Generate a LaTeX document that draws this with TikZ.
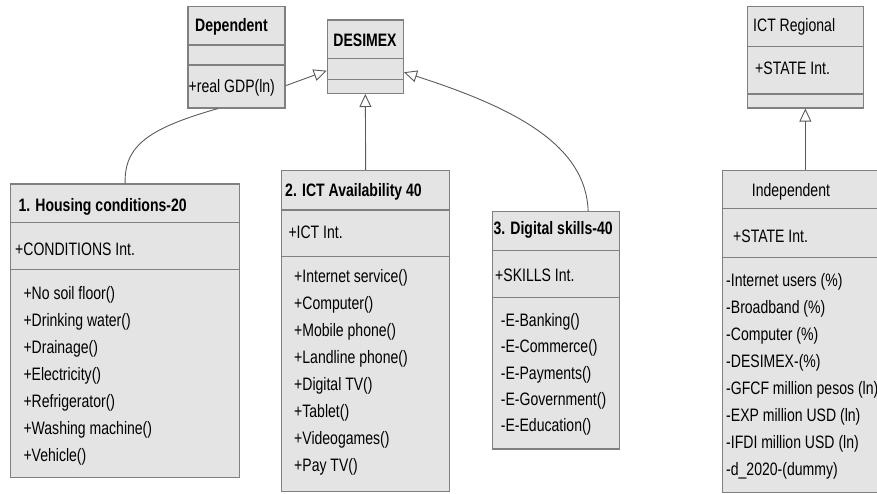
\documentclass[tikz,border=0pt]{standalone}
\usepackage{fontspec}
\setmainfont{Liberation Sans}[FakeStretch=0.78]
\usetikzlibrary{arrows.meta, positioning}
\definecolor{classfill}{RGB}{228,228,228}
\definecolor{classdraw}{RGB}{128,128,128}
\definecolor{linkdraw}{RGB}{90,90,90}

\begin{document}
\begin{tikzpicture}[
x=1pt, y=-1pt,
every node/.style={font=\fontsize{18}{20}\selectfont, inner sep=0pt},
classbox/.style={rectangle, draw=classdraw, fill=classfill, line width=1.3pt, anchor=north west},
classname/.style={font=\bfseries\fontsize{18}{20}\selectfont, anchor=base west},
member/.style={anchor=base west},
divider/.style={draw=classdraw, line width=1.3pt},
inherit/.style={-{Triangle[open, length=13pt, width=12pt]}, draw=linkdraw, line width=0.9pt},
link/.style={draw=linkdraw, line width=0.9pt}
]
\useasboundingbox (0,0) rectangle (877,494);

\node[classbox, minimum width=97pt, minimum height=101.3pt] (dependent) at (187.3,6) {};
\node[classbox, minimum width=76pt, minimum height=73.4pt] (desimex) at (326.7,19.3) {};
\node[classbox, minimum width=229pt, minimum height=293.4pt] (housing) at (10,183.3) {};
\node[classbox, minimum width=168pt, minimum height=321pt] (ict) at (281,170) {};
\node[classbox, minimum width=127pt, minimum height=237.3pt] (skills) at (492,211) {};
\node[classbox, minimum width=116pt, minimum height=101.3pt] (icregional) at (746.7,6) {};
\node[classbox, minimum width=158pt, minimum height=321.7pt] (independent) at (722,170) {};

\draw[divider] (187.3,45) -- (284.3,45);
\draw[divider] (187.3,65) -- (284.3,65);
\draw[divider] (326.7,58.3) -- (402.7,58.3);
\draw[divider] (326.7,79.3) -- (402.7,79.3);
\draw[divider] (10,222.3) -- (239,222.3);
\draw[divider] (10,269.3) -- (239,269.3);
\draw[divider] (281,210) -- (449,210);
\draw[divider] (281,256.7) -- (449,256.7);
\draw[divider] (492,250.7) -- (619,250.7);
\draw[divider] (492,297.3) -- (619,297.3);
\draw[divider] (746.7,46.7) -- (862.7,46.7);
\draw[divider] (746.7,94) -- (862.7,94);
\draw[divider] (722,208.3) -- (880,208.3);
\draw[divider] (722,257.3) -- (880,257.3);

\node[classname] (dependent-name) at (195,31.7) {Dependent};
\node[member] (dependent-attr) at (188.5,93) {+real GDP(ln)};
\node[classname, anchor=base] (desimex-name) at (365,46.7) {DESIMEX};

\node[classname] (housing-name) at (18.3,211.5) {1. Housing conditions-20};
\node[member] (housing-attr) at (15,255) {+CONDITIONS Int.};
\foreach \op [count=\i from 0] in {+No soil floor(), +Drinking water(), +Drainage(), +Electricity(), +Refrigerator(), +Washing machine(), +Vehicle()}
  \node[member] (housing-op\i) at (23.3,299.3+27.07*\i) {\op};

\node[classname] (ict-name) at (285,196.7) {2. ICT Availability 40};
\node[member] (ict-attr) at (288.3,238) {+ICT Int.};
\foreach \op [count=\i from 0] in {+Internet service(), +Computer(), +Mobile phone(), +Landline phone(), +Digital TV(), +Tablet(), +Videogames(), +Pay TV()}
  \node[member] (ict-op\i) at (294,282.7+27*\i) {\op};

\node[classname] (skills-name) at (493.3,234.5) {3. Digital skills-40};
\node[member] (skills-attr) at (495,281.7) {+SKILLS Int.};
\foreach \op [count=\i from 0] in {-E-Banking(), -E-Commerce(), -E-Payments(), -E-Government(), -E-Education()}
  \node[member] (skills-op\i) at (500.7,326.7+26.2*\i) {\op};

\node[member] (icregional-name) at (753,31.7) {ICT Regional};
\node[member] (icregional-attr) at (755,75) {+STATE Int.};

\node[member] (independent-name) at (751.7,196.7) {Independent};
\node[member] (independent-attr) at (733,242.7) {+STATE Int.};
\foreach \op [count=\i from 0] in {-Internet users (\%), -Broadband (\%), -Computer (\%), -DESIMEX-(\%), -GFCF million pesos (ln), -EXP million USD (ln), -IFDI million USD (ln), -d\_2020-(dummy)}
  \node[member] (independent-op\i) at (726,286.7+26.9*\i) {\op};

\draw[inherit] (dependent.-30) -- (desimex.-160);
\draw[link] (dependent.-110) .. controls (150,128) and (124,145) .. (housing.north);
\draw[inherit] (ict.north) -- (desimex.south);
\draw[inherit] (skills.75.6) .. controls (586,145) and (515,108) .. (desimex.-22);
\draw[inherit] (icregional.south |- independent.north) -- (icregional.south);

\end{tikzpicture}
\end{document}
